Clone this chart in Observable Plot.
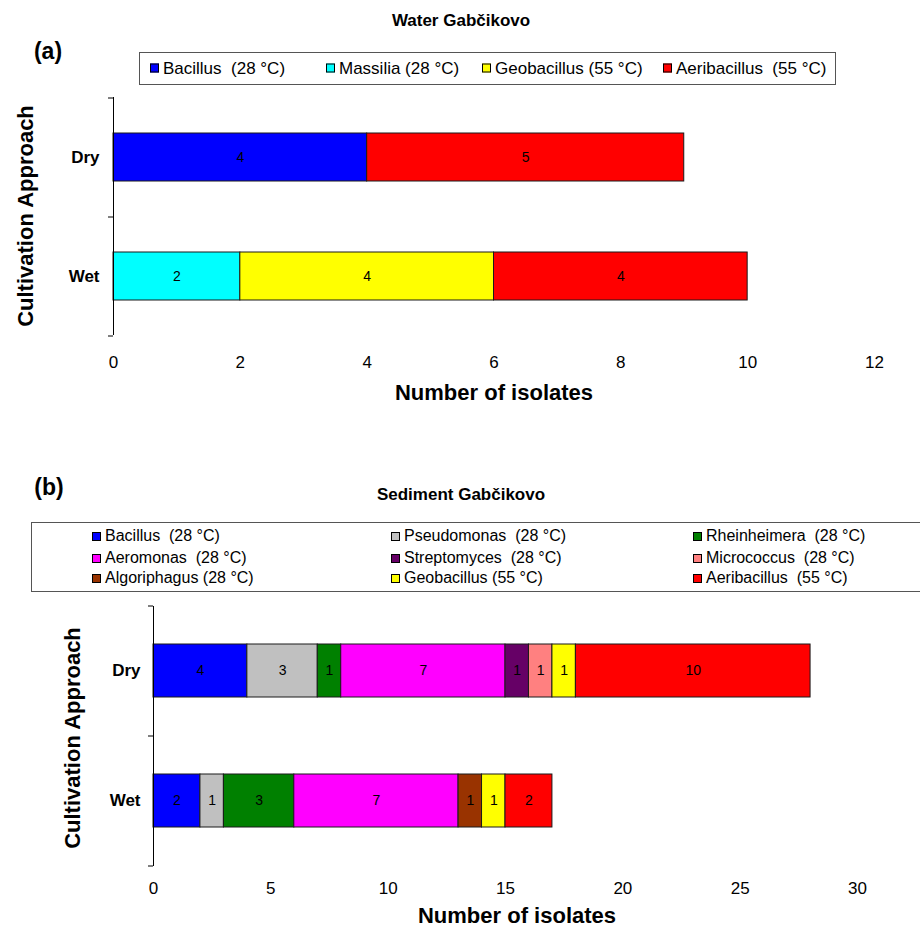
<!DOCTYPE html>
<html><head><meta charset="utf-8">
<script src="https://cdn.jsdelivr.net/npm/d3@7"></script>
<script src="https://cdn.jsdelivr.net/npm/@observablehq/plot@0.6"></script>
<style>
body{margin:0;background:#fff;font-family:"Liberation Sans",Arial,sans-serif;}
#root{position:relative;width:920px;height:927px;overflow:hidden;background:#fff;}
.abs{position:absolute;white-space:pre;color:#000;line-height:1;}
.c{transform:translate(-50%,-50%);}
.r{transform:translate(-50%,-50%) rotate(-90deg);}
.b{font-weight:bold;}
.box{position:absolute;border:1px solid #555;box-sizing:border-box;background:#fff;}
.item{position:absolute;white-space:pre;line-height:1;display:flex;align-items:center;transform:translateY(-50%);}
.sw{width:9px;height:9px;box-sizing:border-box;border:1px solid #000;margin-right:4px;flex:none;}
.panel{position:absolute;left:0;}
.panel g[aria-label^="y-axis"] text{font-weight:bold;}
</style></head>
<body><div id="root"></div>
<script>
// ---------- data ----------
const categories = ["Dry", "Wet"];

const waterGenera = ["Bacillus", "Massilia", "Geobacillus", "Aeribacillus"];
const waterLabels = ["Bacillus  (28 °C)", "Massilia (28 °C)", "Geobacillus (55 °C)", "Aeribacillus  (55 °C)"];
const waterColors = ["#0000FF", "#00FFFF", "#FFFF00", "#FF0000"];
const waterDry = [4, 0, 0, 5];
const waterWet = [0, 2, 4, 4];
const waterTicks = [0, 2, 4, 6, 8, 10, 12];

const sedGenera = ["Bacillus", "Pseudomonas", "Rheinheimera", "Aeromonas", "Streptomyces", "Micrococcus", "Algoriphagus", "Geobacillus", "Aeribacillus"];
const sedLabels = ["Bacillus  (28 °C)", "Pseudomonas  (28 °C)", "Rheinheimera  (28 °C)", "Aeromonas  (28 °C)", "Streptomyces  (28 °C)", "Micrococcus  (28 °C)", "Algoriphagus (28 °C)", "Geobacillus (55 °C)", "Aeribacillus  (55 °C)"];
const sedColors = ["#0000FF", "#C0C0C0", "#008000", "#FF00FF", "#660066", "#FF8080", "#993300", "#FFFF00", "#FF0000"];
const sedDry = [4, 3, 1, 7, 1, 1, 0, 1, 10];
const sedWet = [2, 1, 3, 7, 0, 0, 1, 1, 2];
const sedTicks = [0, 5, 10, 15, 20, 25, 30];

// ---------- helpers ----------
const root = document.getElementById("root");
function txt(s, x, y, size, cls) {
  const d = document.createElement("div");
  d.className = "abs " + cls;
  d.textContent = s;
  d.style.left = x + "px"; d.style.top = y + "px"; d.style.fontSize = size + "px";
  root.appendChild(d);
  return d;
}
function legend(box, items) {
  const b = document.createElement("div");
  b.className = "box";
  Object.assign(b.style, {left: box.x + "px", top: box.y + "px", width: box.w + "px", height: box.h + "px"});
  root.appendChild(b);
  items.forEach(it => {
    const d = document.createElement("div");
    d.className = "item";
    d.style.left = (it.x - box.x - 1) + "px"; d.style.top = (it.y - box.y - 1) + "px"; d.style.fontSize = it.size + "px";
    const s = document.createElement("span"); s.className = "sw"; s.style.background = it.color;
    const t = document.createElement("span"); t.textContent = it.label;
    d.appendChild(s); d.appendChild(t); b.appendChild(d);
  });
}
function panel(o) {
  const rows = [];
  categories.forEach((c, ci) => {
    const vals = ci === 0 ? o.dry : o.wet;
    o.genera.forEach((g, gi) => { if (vals[gi] > 0) rows.push({cat: c, genus: g, value: vals[gi]}); });
  });
  const step = (o.height - o.mt - o.mb) / categories.length;
  const k = (920 - o.ml - o.mr) / (o.domain[1] - o.domain[0]);
  const svg = Plot.plot({
    width: 920, height: o.height,
    marginTop: o.mt, marginBottom: o.mb, marginLeft: o.ml, marginRight: o.mr,
    style: {fontFamily: '"Liberation Sans", Arial, sans-serif', fontSize: "17px", color: "#000", background: "transparent", overflow: "visible"},
    x: {domain: o.domain, ticks: o.ticks, label: null, tickSize: 0, tickPadding: o.xpad, tickFormat: d => String(d)},
    y: {domain: categories, paddingInner: o.pad, paddingOuter: o.pad / 2, label: null, tickSize: 0, tickPadding: o.ypad},
    color: {domain: o.genera, range: o.colors},
    marks: [
      Plot.barX(rows, Plot.stackX({x: "value", y: "cat", fill: "genus", order: o.genera, stroke: "#1a1a1a", strokeWidth: 1})),
      Plot.text(rows, Plot.stackX({x: "value", y: "cat", z: "genus", order: o.genera, text: "value", fontSize: 14, fill: "#000"})),
      Plot.ruleX([0], {stroke: "#000", strokeWidth: 1}),
      Plot.ruleY(categories, {x1: -5 / k, x2: 0, dy: step / 2, stroke: "#000"}),
      Plot.ruleY([categories[0]], {x1: -5 / k, x2: 0, dy: -step / 2, stroke: "#000"})
    ]
  });
  svg.classList.add("panel");
  svg.style.top = o.top + "px";
  root.appendChild(svg);
}

// ---------- panel (a) ----------
txt("Water Gabčikovo", 461, 20, 17, "b c");
txt("(a)", 48, 51, 23, "b c");
legend({x: 139, y: 52, w: 697, h: 33},
  waterGenera.map((g, i) => ({label: waterLabels[i], color: waterColors[i], x: [150, 326, 482, 663][i], y: 68, size: 17})));
panel({top: 90, height: 320, mt: 7, mb: 75, ml: 113, mr: 46, domain: [0, 12], ticks: waterTicks,
  genera: waterGenera, colors: waterColors, dry: waterDry, wet: waterWet, pad: 0.6, xpad: 20, ypad: 14});
txt("Cultivation Approach", 26, 216, 22, "b r");
txt("Number of isolates", 494, 393, 22, "b c");

// ---------- panel (b) ----------
txt("(b)", 49, 487, 23, "b c");
txt("Sediment Gabčikovo", 461, 494, 17, "b c");
legend({x: 31, y: 522, w: 1000, h: 70},
  sedGenera.map((g, i) => ({label: sedLabels[i], color: sedColors[i], x: [92, 391, 693][i % 3], y: [536, 558, 578][Math.floor(i / 3)], size: 16})));
panel({top: 596, height: 331, mt: 10, mb: 61, ml: 153, mr: 63, domain: [0, 30], ticks: sedTicks,
  genera: sedGenera, colors: sedColors, dry: sedDry, wet: sedWet, pad: 0.59, xpad: 15, ypad: 13});
txt("Cultivation Approach", 73, 738, 22, "b r");
txt("Number of isolates", 517, 916, 22, "b c");
</script></body></html>
